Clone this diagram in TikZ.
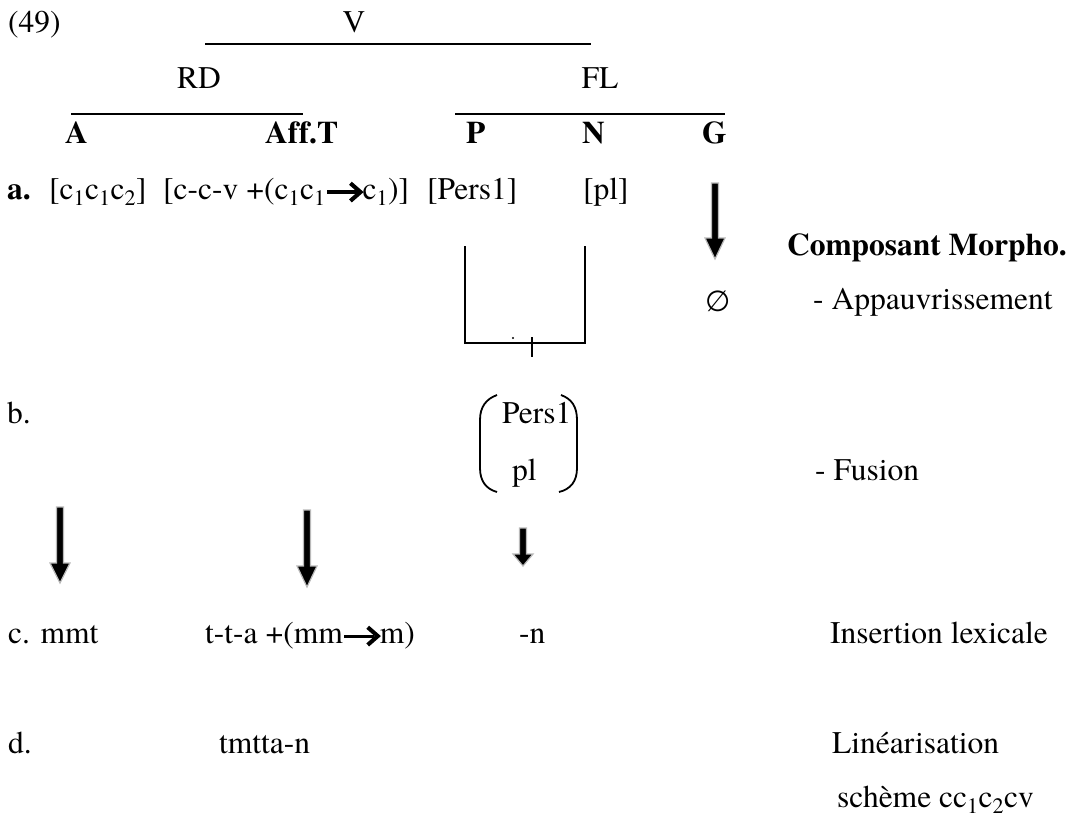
\documentclass[tikz,border=0pt]{standalone}
\usepackage{fontspec}
\setmainfont{texgyretermes}[Extension=.otf, UprightFont=*-regular, BoldFont=*-bold, ItalicFont=*-italic, BoldItalicFont=*-bolditalic, Ligatures=NoCommon]
\newfontfamily\esfont{DejaVu Sans}
\usetikzlibrary{calc}
\newcommand\barr{\tikz[baseline=0pt]{\draw[line width=0.1em] (0,0.22em) -- (0.95em,0.22em); \draw[line width=0.13em, miter limit=10] (0.74em,0.5em) -- (1.06em,0.22em) -- (0.74em,-0.06em);}}
\newcommand\blockarrow[3]{%
  \path[blockarr] let \p1=(#1), \p2=(#2) in
    (\x1-3.5pt,\y1) -- (\x1+3.5pt,\y1) -- (\x1+3.5pt,\y2+#3) -- (\x1+10pt,\y2+#3)
    -- (\x1,\y2) -- (\x1-10pt,\y2+#3) -- (\x1-3.5pt,\y2+#3) -- cycle;}
\newcommand\sub[1]{\textsubscript{#1}}
\begin{document}
\begin{tikzpicture}[x=1pt,y=-1pt,
  txt/.style={inner sep=0pt, anchor=base west, font=\rmfamily\mdseries\fontsize{31.5}{38}\selectfont},
  btxt/.style={txt, font=\rmfamily\fontsize{31.5}{38}\selectfont\bfseries},
  ctxt/.style={txt, anchor=base},
  rule/.style={line width=2pt},
  blockarr/.style={fill=black, draw=gray!55, line width=1.2pt, line join=miter}]
\useasboundingbox (0,0) rectangle (1075,817);
% tree
\node[txt] (n49) at (8,32) {(49)};
\node[ctxt] (V) at (354,32) {V};
\coordinate (vl) at (205,44); \coordinate (vr) at (591,44);
\draw[rule] (vl) -- (vr);
\node[ctxt] (RD) at (199,88) {RD};
\node[ctxt] (FL) at (600,88) {FL};
\coordinate (rdl) at (71,114); \coordinate (rdr) at (303,114);
\coordinate (fll) at (455,114); \coordinate (flr) at (725,114);
\draw[rule] (rdl) -- (rdr);
\draw[rule] (fll) -- (flr);
\node[btxt] (A) at (65,143) {A};
\node[btxt] (AffT) at (265,143) {Aff.T};
\node[btxt] (P) at (466,143) {P};
\node[btxt] (N) at (582,143) {N};
\node[btxt] (G) at (702,143) {G};
% row a
\node[btxt] (la) at (7,199) {a.};
\node[txt] (a1) at (49,199) {[c\sub1c\sub1c\sub2]};
\node[txt] (a2) at (163,199) {[c-c-v +(c\sub1c\sub1\barr c\sub1)]};
\node[txt] (a3) at (427,199) {[Pers1]};
\node[txt] (a4) at (583,199) {[pl]};
\coordinate (gt) at (715,183); \coordinate (gb) at (715,259);
\blockarrow{gt}{gb}{21pt}
\node[btxt] (comp) at (787,255) {Composant Morpho.};
\node[inner sep=0pt, font=\esfont\fontsize{29}{34}\selectfont] (empty) at (718,301) {∅};
\node[txt] (appauv) at (813,309) {- Appauvrissement};
% box
\coordinate (bxa) at (465,247); \coordinate (bxb) at (465,343);
\coordinate (bxc) at (585,343); \coordinate (bxd) at (585,247);
\draw[rule, line cap=rect] (bxa) -- (bxb) -- (bxc) -- (bxd);
\coordinate (tka) at (532,337); \coordinate (tkb) at (532,357);
\draw[rule] (tka) -- (tkb);
\fill (513,338) circle (1.2pt);
% row b
\node[txt] (lb) at (7,423) {b.};
\node[txt] (bpers) at (502,423) {Pers1};
\node[txt] (bpl) at (512,480) {pl};
\draw[line width=1.8pt] (497,395) .. controls (486,399) and (480,407) .. (480,420) -- (480,468) .. controls (480,481) and (486,489) .. (497,492);
\draw[line width=1.8pt] (561,395) .. controls (572,399) and (577,407) .. (577,420) -- (577,468) .. controls (577,481) and (571,489) .. (559,492);
\node[txt] (fusion) at (815,480) {- Fusion};
% arrows
\coordinate (ar1t) at (60,507); \coordinate (ar1b) at (60,583);
\coordinate (ar2t) at (307,510); \coordinate (ar2b) at (307,587);
\coordinate (ar3t) at (523,528); \coordinate (ar3b) at (523,566);
\blockarrow{ar1t}{ar1b}{20pt}
\blockarrow{ar2t}{ar2b}{21pt}
\blockarrow{ar3t}{ar3b}{12pt}
% row c
\node[txt] (c1) at (8,643) {c. mmt};
\node[txt] (c2) at (205,643) {t-t-a +(mm\barr m)};
\node[txt] (c3) at (519,643) {-n};
\node[txt] (c4) at (830,643) {Insertion lexicale};
% row d
\node[txt] (d1) at (8,753) {d.};
\node[txt] (d2) at (219,753) {tmtta-n};
\node[txt] (d3) at (832,753) {Linéarisation};
\node[txt] (d4) at (837,807) {schème cc\sub1c\sub2cv};
\end{tikzpicture}
\end{document}
